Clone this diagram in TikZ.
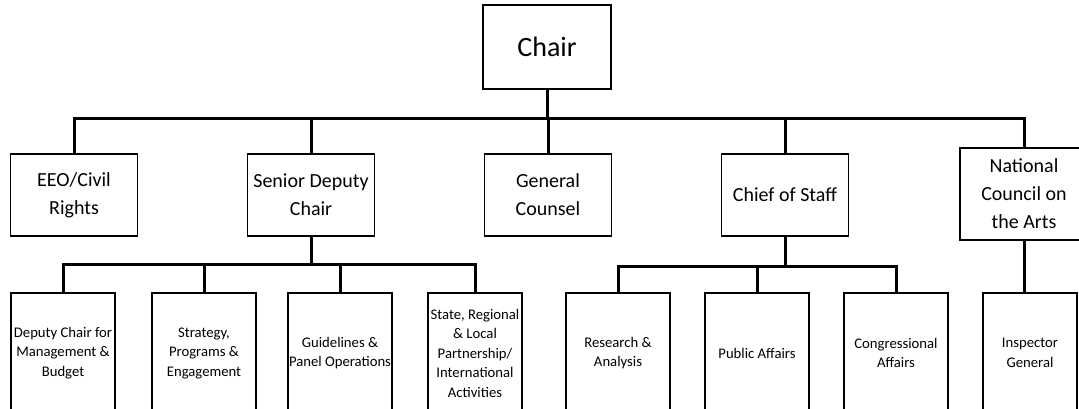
\documentclass[tikz,border=0pt]{standalone}
\usepackage{fontspec}
\setmainfont{Carlito}

\begin{document}
\begin{tikzpicture}[x=1pt, y=-1pt, line width=3pt, black,
	box/.style={draw, line width=1.8pt, inner sep=0pt, align=center},
	topBox/.style={box, minimum width=128pt, minimum height=84pt, font=\fontsize{28}{32}\selectfont},
	midBox/.style={box, minimum width=127pt, minimum height=82pt, font=\fontsize{20}{28}\selectfont},
	lowBox/.style={box, minimum width=104pt, minimum height=120pt, font=\fontsize{14.7}{19.5}\selectfont}]

	% fix the page and cut the boxes at its border
	\useasboundingbox (0,0) rectangle (1079,409);
	\clip (0,0) rectangle (1079,409);

	% draw the top box
	\node[topBox] (chair) at (547,47) {Chair};

	% draw the second row
	\node[midBox] (eeo) at (74,195) {EEO/Civil\\Rights};
	\node[midBox] (senior) at (311,195) {Senior Deputy\\Chair};
	\node[midBox] (counsel) at (548,195) {General\\Counsel};
	\node[midBox] (staff) at (785,195) {Chief of Staff};
	\node[midBox, minimum width=128pt, minimum height=92pt] (council) at (1024,194) {National\\Council on\\the Arts};

	% draw the third row
	\node[lowBox] (budget) at (63,353) {Deputy Chair for\\Management \&\\Budget};
	\node[lowBox] (strategy) at (204,353) {Strategy,\\Programs \&\\Engagement};
	\node[lowBox] (panel) at (340,353) {Guidelines \&\\Panel Operations};
	\node[lowBox, minimum width=94pt] (partner) at (475,353) {State, Regional\\\& Local\\Partnership/\\International\\Activities};
	\node[lowBox] (research) at (618,353) {Research \&\\Analysis};
	\node[lowBox] (public) at (757,353) {Public Affairs};
	\node[lowBox] (congress) at (896,353) {Congressional\\Affairs};
	\node[lowBox, minimum width=94pt] (inspector) at (1030,353) {Inspector\\General};

	% draw connectors
	\foreach \n in {eeo,senior,counsel,staff,council}
	\draw (chair.south) -- ++(0,29) -| (\n.north);

	\foreach \n in {budget,strategy,panel,partner}
	\draw (senior.south) -- ++(0,28) -| (\n.north);

	\foreach \n in {research,public,congress}
	\draw (staff.south) -- ++(0,30) -| (\n.north);

	\draw (council.south) -- (council.south |- inspector.north);
\end{tikzpicture}
\end{document}
